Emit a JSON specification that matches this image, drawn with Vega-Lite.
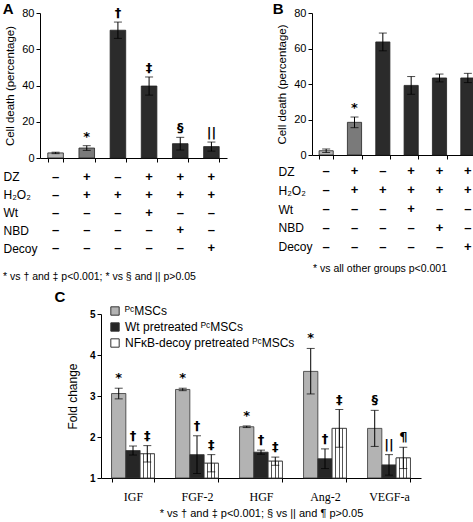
{
  "$schema": "https://vega.github.io/schema/vega-lite/v6.json",
  "padding": {"left": 2, "top": 2, "right": 2, "bottom": 2},
  "background": "white",
  "config": {
    "font": "Liberation Sans",
    "view": {"stroke": null},
    "axis": {"grid": false, "domainColor": "#000", "tickColor": "#000", "labelColor": "#000", "titleColor": "#000", "labelFont": "Liberation Sans", "titleFont": "Liberation Sans", "titleFontWeight": "normal", "labelOverlap": false},
    "title": {"color": "#000"},
    "legend": {"labelColor": "#000"},
    "text": {"color": "#000"}
  },
  "datasets": {
    "a": [
      {"g": "1", "kind": "control", "v": 2.8, "lo": 2.4, "hi": 3.2, "sig": ""},
      {"g": "2", "kind": "DZ", "v": 5.5, "lo": 4.2, "hi": 6.8, "sig": "*"},
      {"g": "3", "kind": "other", "v": 70.5, "lo": 66, "hi": 75, "sig": "†"},
      {"g": "4", "kind": "other", "v": 39.7, "lo": 34.7, "hi": 44.7, "sig": "‡"},
      {"g": "5", "kind": "other", "v": 7.9, "lo": 4.4, "hi": 11.4, "sig": "§"},
      {"g": "6", "kind": "other", "v": 6.3, "lo": 3.8, "hi": 8.8, "sig": "||"}
    ],
    "b": [
      {"g": "1", "kind": "control", "v": 2.4, "lo": 1.4, "hi": 3.4, "sig": ""},
      {"g": "2", "kind": "DZ", "v": 18.4, "lo": 15.4, "hi": 21.4, "sig": "*"},
      {"g": "3", "kind": "other", "v": 63.7, "lo": 58.7, "hi": 68.7, "sig": ""},
      {"g": "4", "kind": "other", "v": 39.2, "lo": 34.2, "hi": 44.2, "sig": ""},
      {"g": "5", "kind": "other", "v": 43.4, "lo": 41.2, "hi": 45.6, "sig": ""},
      {"g": "6", "kind": "other", "v": 43.4, "lo": 40.8, "hi": 46.0, "sig": ""}
    ],
    "signs": [
      {"g": "1", "row": "DZ", "s": "–"}, {"g": "2", "row": "DZ", "s": "+"}, {"g": "3", "row": "DZ", "s": "–"}, {"g": "4", "row": "DZ", "s": "+"}, {"g": "5", "row": "DZ", "s": "+"}, {"g": "6", "row": "DZ", "s": "+"},
      {"g": "1", "row": "H₂O₂", "s": "–"}, {"g": "2", "row": "H₂O₂", "s": "+"}, {"g": "3", "row": "H₂O₂", "s": "+"}, {"g": "4", "row": "H₂O₂", "s": "+"}, {"g": "5", "row": "H₂O₂", "s": "+"}, {"g": "6", "row": "H₂O₂", "s": "+"},
      {"g": "1", "row": "Wt", "s": "–"}, {"g": "2", "row": "Wt", "s": "–"}, {"g": "3", "row": "Wt", "s": "–"}, {"g": "4", "row": "Wt", "s": "+"}, {"g": "5", "row": "Wt", "s": "–"}, {"g": "6", "row": "Wt", "s": "–"},
      {"g": "1", "row": "NBD", "s": "–"}, {"g": "2", "row": "NBD", "s": "–"}, {"g": "3", "row": "NBD", "s": "–"}, {"g": "4", "row": "NBD", "s": "–"}, {"g": "5", "row": "NBD", "s": "+"}, {"g": "6", "row": "NBD", "s": "–"},
      {"g": "1", "row": "Decoy", "s": "–"}, {"g": "2", "row": "Decoy", "s": "–"}, {"g": "3", "row": "Decoy", "s": "–"}, {"g": "4", "row": "Decoy", "s": "–"}, {"g": "5", "row": "Decoy", "s": "–"}, {"g": "6", "row": "Decoy", "s": "+"}
    ],
    "c": [
      {"gene": "IGF", "series": "ᴾᶜMSCs", "v": 3.06, "lo": 2.93, "hi": 3.19, "sig": "*"},
      {"gene": "IGF", "series": "Wt pretreated ᴾᶜMSCs", "v": 1.67, "lo": 1.56, "hi": 1.78, "sig": "†"},
      {"gene": "IGF", "series": "NFκB-decoy pretreated ᴾᶜMSCs", "v": 1.59, "lo": 1.39, "hi": 1.79, "sig": "‡"},
      {"gene": "FGF-2", "series": "ᴾᶜMSCs", "v": 3.16, "lo": 3.13, "hi": 3.19, "sig": "*"},
      {"gene": "FGF-2", "series": "Wt pretreated ᴾᶜMSCs", "v": 1.57, "lo": 1.11, "hi": 2.03, "sig": "†"},
      {"gene": "FGF-2", "series": "NFκB-decoy pretreated ᴾᶜMSCs", "v": 1.36, "lo": 1.15, "hi": 1.57, "sig": "‡"},
      {"gene": "HGF", "series": "ᴾᶜMSCs", "v": 2.25, "lo": 2.23, "hi": 2.27, "sig": "*"},
      {"gene": "HGF", "series": "Wt pretreated ᴾᶜMSCs", "v": 1.63, "lo": 1.58, "hi": 1.68, "sig": "†"},
      {"gene": "HGF", "series": "NFκB-decoy pretreated ᴾᶜMSCs", "v": 1.41, "lo": 1.31, "hi": 1.51, "sig": "‡"},
      {"gene": "Ang-2", "series": "ᴾᶜMSCs", "v": 3.6, "lo": 3.05, "hi": 4.16, "sig": "*"},
      {"gene": "Ang-2", "series": "Wt pretreated ᴾᶜMSCs", "v": 1.47, "lo": 1.23, "hi": 1.71, "sig": "†"},
      {"gene": "Ang-2", "series": "NFκB-decoy pretreated ᴾᶜMSCs", "v": 2.21, "lo": 1.75, "hi": 2.67, "sig": "‡"},
      {"gene": "VEGF-a", "series": "ᴾᶜMSCs", "v": 2.21, "lo": 1.77, "hi": 2.65, "sig": "§"},
      {"gene": "VEGF-a", "series": "Wt pretreated ᴾᶜMSCs", "v": 1.32, "lo": 1.07, "hi": 1.57, "sig": "||"},
      {"gene": "VEGF-a", "series": "NFκB-decoy pretreated ᴾᶜMSCs", "v": 1.49, "lo": 1.23, "hi": 1.75, "sig": "¶"}
    ]
  },
  "center": true,
  "spacing": 7,
  "resolve": {"scale": {"x": "independent", "y": "independent", "color": "independent"}},
  "vconcat": [
    {
      "spacing": 45,
      "resolve": {"scale": {"x": "independent", "y": "independent", "color": "independent"}},
      "hconcat": [
        {
          "spacing": 5,
          "resolve": {"scale": {"x": "independent", "y": "independent", "color": "independent"}},
          "vconcat": [
            {
              "width": 187, "height": 145,
              "title": {"text": "A", "anchor": "start", "frame": "bounds", "fontSize": 15, "fontWeight": "bold", "offset": -10, "dx": -2},
              "data": {"name": "a"},
              "encoding": {"x": {"field": "g", "type": "nominal", "sort": null, "scale": {"paddingInner": 0.5, "paddingOuter": 0.25}, "axis": {"labels": false, "title": null, "tickBand": "extent", "tickSize": 4}}},
              "layer": [
                {"mark": {"type": "bar", "stroke": "#222", "strokeWidth": 0.8},
                 "encoding": {
                   "y": {"field": "v", "type": "quantitative", "scale": {"domain": [0, 80]}, "axis": {"values": [0, 20, 40, 60, 80], "title": "Cell death (percentage)", "titleFontSize": 11.5, "labelFontSize": 11, "tickSize": 4, "titlePadding": 6, "labelOverlap": false}},
                   "color": {"field": "kind", "type": "nominal", "scale": {"domain": ["control", "DZ", "other"], "range": ["#b5b5b5", "#7a7a7a", "#2b2b2b"]}, "legend": null}}},
                {"mark": {"type": "rule", "color": "#000"}, "encoding": {"y": {"field": "lo", "type": "quantitative", "axis": {"values": [0, 20, 40, 60, 80]}}, "y2": {"field": "hi"}}},
                {"mark": {"type": "tick", "color": "#000", "size": 8, "thickness": 1}, "encoding": {"y": {"field": "lo", "type": "quantitative", "axis": {"values": [0, 20, 40, 60, 80]}}}},
                {"mark": {"type": "tick", "color": "#000", "size": 8, "thickness": 1}, "encoding": {"y": {"field": "hi", "type": "quantitative", "axis": {"values": [0, 20, 40, 60, 80]}}}},
                {"mark": {"type": "text", "baseline": "bottom", "dy": -2, "fontSize": 13, "fontWeight": "bold", "font": "DejaVu Sans", "color": "#000", "fill": "#000"}, "encoding": {"y": {"field": "hi", "type": "quantitative", "axis": {"values": [0, 20, 40, 60, 80]}}, "text": {"field": "sig"}}}
              ]
            },
            {
              "width": 187, "height": 89,
              "data": {"name": "signs"},
              "title": {"text": "* vs † and ‡ p<0.001; * vs § and || p>0.05", "orient": "bottom", "anchor": "start", "frame": "bounds", "fontSize": 10.5, "fontWeight": "normal", "offset": 15},
              "mark": {"type": "text", "fontSize": 13, "fontWeight": "bold", "color": "#000"},
              "encoding": {
                "x": {"field": "g", "type": "nominal", "sort": null, "scale": {"paddingInner": 0.5, "paddingOuter": 0.25}, "axis": null},
                "y": {"field": "row", "type": "nominal", "sort": ["DZ", "H₂O₂", "Wt", "NBD", "Decoy"], "scale": {"paddingInner": 0, "paddingOuter": 0}, "axis": {"title": null, "domain": false, "ticks": false, "labelAlign": "left", "labelPadding": 37, "labelFontSize": 12}},
                "text": {"field": "s"}
              }
            }
          ]
        },
        {
          "spacing": 2,
          "resolve": {"scale": {"x": "independent", "y": "independent", "color": "independent"}},
          "vconcat": [
            {
              "width": 170, "height": 142,
              "title": {"text": "B", "anchor": "start", "frame": "bounds", "fontSize": 15, "fontWeight": "bold", "offset": -10, "dx": -4},
              "data": {"name": "b"},
              "encoding": {"x": {"field": "g", "type": "nominal", "sort": null, "scale": {"paddingInner": 0.5, "paddingOuter": 0.25}, "axis": {"labels": false, "title": null, "tickBand": "extent", "tickSize": 4}}},
              "layer": [
                {"mark": {"type": "bar", "stroke": "#222", "strokeWidth": 0.8},
                 "encoding": {
                   "y": {"field": "v", "type": "quantitative", "scale": {"domain": [0, 80]}, "axis": {"values": [0, 20, 40, 60, 80], "title": "Cell death (percentage)", "titleFontSize": 11.5, "labelFontSize": 11, "tickSize": 4, "titlePadding": 6, "labelOverlap": false}},
                   "color": {"field": "kind", "type": "nominal", "scale": {"domain": ["control", "DZ", "other"], "range": ["#b5b5b5", "#7a7a7a", "#2b2b2b"]}, "legend": null}}},
                {"mark": {"type": "rule", "color": "#000"}, "encoding": {"y": {"field": "lo", "type": "quantitative", "axis": {"values": [0, 20, 40, 60, 80]}}, "y2": {"field": "hi"}}},
                {"mark": {"type": "tick", "color": "#000", "size": 8, "thickness": 1}, "encoding": {"y": {"field": "lo", "type": "quantitative", "axis": {"values": [0, 20, 40, 60, 80]}}}},
                {"mark": {"type": "tick", "color": "#000", "size": 8, "thickness": 1}, "encoding": {"y": {"field": "hi", "type": "quantitative", "axis": {"values": [0, 20, 40, 60, 80]}}}},
                {"mark": {"type": "text", "baseline": "bottom", "dy": -2, "fontSize": 13, "fontWeight": "bold", "font": "DejaVu Sans", "color": "#000", "fill": "#000"}, "encoding": {"y": {"field": "hi", "type": "quantitative", "axis": {"values": [0, 20, 40, 60, 80]}}, "text": {"field": "sig"}}}
              ]
            },
            {
              "width": 170, "height": 94,
              "data": {"name": "signs"},
              "title": {"text": "* vs all other groups p<0.001", "orient": "bottom", "anchor": "middle", "frame": "bounds", "fontSize": 10.5, "fontWeight": "normal", "offset": 8},
              "mark": {"type": "text", "fontSize": 13, "fontWeight": "bold", "color": "#000"},
              "encoding": {
                "x": {"field": "g", "type": "nominal", "sort": null, "scale": {"paddingInner": 0.5, "paddingOuter": 0.25}, "axis": null},
                "y": {"field": "row", "type": "nominal", "sort": ["DZ", "H₂O₂", "Wt", "NBD", "Decoy"], "scale": {"paddingInner": 0, "paddingOuter": 0}, "axis": {"title": null, "domain": false, "ticks": false, "labelAlign": "left", "labelPadding": 34, "labelFontSize": 12}},
                "text": {"field": "s"}
              }
            }
          ]
        }
      ]
    },
    {
      "width": 320, "height": 164,
      "title": {"text": "C", "anchor": "start", "frame": "bounds", "fontSize": 15, "fontWeight": "bold", "offset": 0, "dx": -12},
      "data": {"name": "c"},
      "encoding": {
        "x": {"field": "gene", "type": "nominal", "sort": null, "scale": {"paddingInner": 0.33, "paddingOuter": 0.165}, "axis": {"title": "* vs † and ‡ p<0.001; § vs || and ¶  p>0.05", "titleFontSize": 11, "titlePadding": 5, "labelFont": "Liberation Serif", "labelFontSize": 12, "labelAngle": 0, "labelPadding": 9, "tickBand": "extent", "tickSize": 4}},
        "xOffset": {"field": "series", "type": "nominal", "sort": null, "scale": {"paddingInner": 0, "paddingOuter": 0}}
      },
      "layer": [
        {"mark": {"type": "bar", "stroke": "#333", "strokeWidth": 0.8},
         "encoding": {
           "y": {"field": "v", "type": "quantitative", "scale": {"domain": [1, 5], "zero": false}, "axis": {"values": [1, 2, 3, 4, 5], "title": "Fold change", "titleFontSize": 12, "labelFontSize": 10, "labelFontWeight": "bold", "tickSize": 4, "titlePadding": 10, "labelOverlap": false}},
           "y2": {"datum": 1},
           "color": {"field": "series", "type": "nominal", "sort": null,
             "scale": {"domain": ["ᴾᶜMSCs", "Wt pretreated ᴾᶜMSCs", "NFκB-decoy pretreated ᴾᶜMSCs"], "range": ["#b3b3b3", "#262626", "#ffffff"]},
             "legend": {"orient": "none", "legendX": 8, "legendY": -9, "title": null, "symbolType": "square", "symbolSize": 70, "symbolStrokeColor": "#333", "symbolStrokeWidth": 1, "labelFontSize": 12, "labelLimit": 0, "rowPadding": 2, "symbolOpacity": 1,
               "encode": {"symbols": {"update": {"fill": [
                 {"test": "datum.index === 0", "value": "#b3b3b3"},
                 {"test": "datum.index === 1", "value": "#262626"},
                 {"value": {"gradient": "linear", "x1": 0, "y1": 0, "x2": 1, "y2": 0, "stops": [
                   {"offset": 0, "color": "#ffffff"}, {"offset": 0.28, "color": "#ffffff"}, {"offset": 0.28, "color": "#444444"}, {"offset": 0.42, "color": "#444444"}, {"offset": 0.42, "color": "#ffffff"},
                   {"offset": 0.58, "color": "#ffffff"}, {"offset": 0.58, "color": "#444444"}, {"offset": 0.72, "color": "#444444"}, {"offset": 0.72, "color": "#ffffff"}, {"offset": 1, "color": "#ffffff"}]}}
               ], "stroke": {"value": "#333"}}}}}}}},
        {"transform": [{"filter": "datum.series === 'NFκB-decoy pretreated ᴾᶜMSCs'"}],
         "mark": {"type": "bar", "stroke": "#333", "strokeWidth": 0.8,
           "fill": {"gradient": "linear", "x1": 0, "y1": 0, "x2": 1, "y2": 0, "stops": [
             {"offset": 0, "color": "#ffffff"}, {"offset": 0.22, "color": "#ffffff"}, {"offset": 0.22, "color": "#555555"}, {"offset": 0.3, "color": "#555555"}, {"offset": 0.3, "color": "#ffffff"},
             {"offset": 0.46, "color": "#ffffff"}, {"offset": 0.46, "color": "#555555"}, {"offset": 0.54, "color": "#555555"}, {"offset": 0.54, "color": "#ffffff"},
             {"offset": 0.7, "color": "#ffffff"}, {"offset": 0.7, "color": "#555555"}, {"offset": 0.78, "color": "#555555"}, {"offset": 0.78, "color": "#ffffff"}, {"offset": 1, "color": "#ffffff"}]}},
         "encoding": {"y": {"field": "v", "type": "quantitative", "axis": {"values": [1, 2, 3, 4, 5]}}, "y2": {"datum": 1}}},
        {"mark": {"type": "rule", "color": "#000"}, "encoding": {"y": {"field": "lo", "type": "quantitative", "axis": {"values": [1, 2, 3, 4, 5]}}, "y2": {"field": "hi"}}},
        {"mark": {"type": "tick", "color": "#000", "size": 8, "thickness": 1}, "encoding": {"y": {"field": "lo", "type": "quantitative", "axis": {"values": [1, 2, 3, 4, 5]}}}},
        {"mark": {"type": "tick", "color": "#000", "size": 8, "thickness": 1}, "encoding": {"y": {"field": "hi", "type": "quantitative", "axis": {"values": [1, 2, 3, 4, 5]}}}},
        {"mark": {"type": "text", "baseline": "bottom", "dy": -3, "fontSize": 13, "fontWeight": "bold", "font": "DejaVu Sans", "color": "#000", "fill": "#000"}, "encoding": {"y": {"field": "hi", "type": "quantitative", "axis": {"values": [1, 2, 3, 4, 5]}}, "text": {"field": "sig"}}}
      ]
    }
  ]
}
